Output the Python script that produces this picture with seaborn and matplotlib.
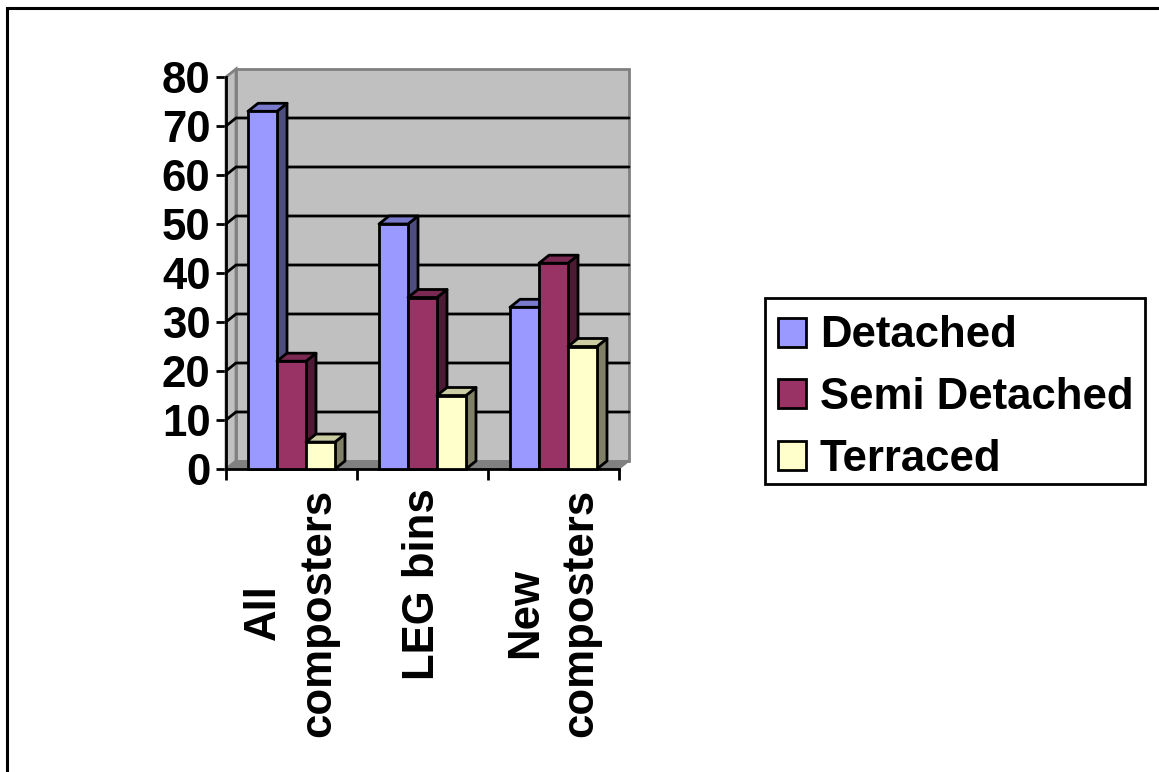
import matplotlib
matplotlib.use("Agg")
import matplotlib.pyplot as plt
from matplotlib.lines import Line2D
from matplotlib.patches import Polygon, Patch, Rectangle
import numpy as np
import pandas as pd
import seaborn as sns

categories = ["All\ncomposters", "LEG bins", "New\ncomposters"]
series_names = ["Detached", "Semi Detached", "Terraced"]
detached = [73, 50, 33]
semi_detached = [22, 35, 42]
terraced = [5.5, 15, 25]
colors = ["#9999FF", "#993366", "#FFFFCC"]
y_ticks = [0, 10, 20, 30, 40, 50, 60, 70, 80]

W, H = 1159, 772
sns.set_theme(style="white")
plt.rcParams["font.family"] = ["Liberation Sans", "DejaVu Sans"]
plt.rcParams["font.weight"] = "bold"
FS = 31.5
LW = 2.0

df = pd.DataFrame({
    "category": categories * 3,
    "series": sum([[s] * 3 for s in series_names], []),
    "value": detached + semi_detached + terraced,
})

fig = plt.figure(figsize=(W / 100, H / 100), dpi=100, facecolor="white")
L, R, T, B = 226, 619, 77, 469
ax = fig.add_axes([L / W, 1 - B / H, (R - L) / W, (B - T) / H])
ax.patch.set_alpha(0)

sns.barplot(data=df, x="category", y="value", hue="series", hue_order=series_names,
            order=categories, palette=colors, width=0.664, gap=0, dodge=True,
            saturation=1, legend=False, edgecolor="black", linewidth=LW, ax=ax, zorder=5)
ax.set_xlim(-0.5, 2.5)
ax.set_ylim(0, 80)
ax.set_xlabel("")
ax.set_ylabel("")

bars = sorted([p for p in ax.patches if isinstance(p, Rectangle)], key=lambda p: p.get_x())

# depth of the pseudo-3D box expressed in data units
dx = 10 / (R - L) * 3
dy = 8 / (B - T) * 80

x0, x1 = -0.5, 2.5
wall = "#C0C0C0"
edge = "#808080"
ax.add_patch(Polygon([(x0 + dx, dy), (x1 + dx, dy), (x1 + dx, 80 + dy), (x0 + dx, 80 + dy)],
                     closed=True, fc=wall, ec=edge, lw=LW, clip_on=False, zorder=1))
ax.add_patch(Polygon([(x0, 0), (x0 + dx, dy), (x0 + dx, 80 + dy), (x0, 80)],
                     closed=True, fc=wall, ec=edge, lw=LW, clip_on=False, zorder=1))
ax.add_patch(Polygon([(x0, 0), (x1, 0), (x1 + dx, dy), (x0 + dx, dy)],
                     closed=True, fc="#808080", ec="#808080", lw=1, clip_on=False, zorder=1.5))
for v in y_ticks[1:-1]:
    ax.plot([x0, x0 + dx, x1 + dx], [v, v + dy, v + dy], color="black", lw=LW,
            clip_on=False, zorder=2, solid_joinstyle="miter")


def shade(c, f):
    return tuple(np.array(matplotlib.colors.to_rgb(c)) * f)


for i, p in enumerate(bars):
    a, b, h = p.get_x(), p.get_x() + p.get_width(), p.get_height()
    c = p.get_facecolor()[:3]
    z = 5 + i * 0.1
    p.set_zorder(z + 0.02)
    p.set_clip_on(False)
    ax.add_patch(Polygon([(b, 0), (b + dx, dy), (b + dx, h + dy), (b, h)], closed=True,
                         fc=shade(c, 0.5), ec="black", lw=LW, joinstyle="round",
                         clip_on=False, zorder=z))
    ax.add_patch(Polygon([(a, h), (b, h), (b + dx, h + dy), (a + dx, h + dy)], closed=True,
                         fc=shade(c, 0.8), ec="black", lw=LW, joinstyle="round",
                         clip_on=False, zorder=z))

for s in ["top", "right"]:
    ax.spines[s].set_visible(False)
for s in ["left", "bottom"]:
    ax.spines[s].set_color("black")
    ax.spines[s].set_linewidth(LW)
    ax.spines[s].set_zorder(4)

ax.set_yticks(y_ticks)
ax.tick_params(axis="y", left=True, length=7.2, width=LW, color="black", pad=4,
               labelsize=FS, labelcolor="black")
ax.set_xticks([-0.5, 0.5, 1.5, 2.5], minor=True)
ax.tick_params(axis="x", which="minor", bottom=True, length=8, width=LW, color="black")
ax.tick_params(axis="x", which="major", bottom=False, length=0, pad=14, labelsize=FS,
               labelcolor="black")
for t in ax.get_xticklabels():
    t.set_rotation(90)
    t.set_ha("center")
    t.set_va("top")
    t.set_multialignment("center")
    t.set_linespacing(1.45)
for t in ax.get_xticklabels() + ax.get_yticklabels():
    t.set_fontweight("bold")

# legend frame is drawn separately so the entries can sit lower inside it
fig.add_artist(Rectangle((765 / W, 1 - 484 / H), 380 / W, 186 / H, transform=fig.transFigure,
                         fc="white", ec="black", lw=LW, zorder=1))
handles = [Patch(fc=c, ec="black", lw=LW) for c in colors]
leg = fig.legend(handles, series_names, loc="center", bbox_to_anchor=(955.5 / W, 1 - 397.5 / H),
                 bbox_transform=fig.transFigure, fontsize=FS, frameon=False,
                 borderpad=0.25, handlelength=0.64, handleheight=0.64, handletextpad=0.32,
                 labelspacing=0.47, borderaxespad=0)
for t in leg.get_texts():
    t.set_color("black")
    t.set_fontweight("bold")

fig.add_artist(Line2D([6.5 / W, 6.5 / W, 1158 / W], [0, 1 - 8 / H, 1 - 8 / H],
                      transform=fig.transFigure, color="black", lw=2.2,
                      solid_joinstyle="miter"))

fig.savefig("out.png", dpi=100, facecolor="white")
